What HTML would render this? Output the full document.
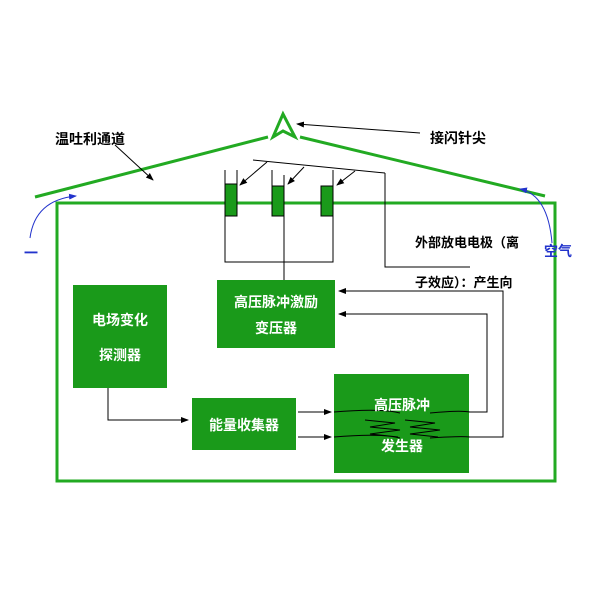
<!DOCTYPE html>
<html><head><meta charset="utf-8"><style>
body{margin:0;background:#fff}
svg text{font-family:"Liberation Sans","Noto Sans CJK SC",sans-serif;font-weight:bold}
</style></head><body>
<svg width="600" height="600" viewBox="0 0 600 600" xmlns="http://www.w3.org/2000/svg">
<defs><marker id="a" markerWidth="8" markerHeight="8" refX="7" refY="4" orient="auto"><path d="M0,1 L8,4 L0,7z" fill="#000"/></marker>
<marker id="b" markerWidth="8" markerHeight="8" refX="7" refY="4" orient="auto"><path d="M0,1 L8,4 L0,7z" fill="#2233cc"/></marker></defs>
<rect x="57" y="203" width="498" height="278" fill="none" stroke="#22aa22" stroke-width="3"/>
<line x1="35" y1="197" x2="268" y2="137" stroke="#22aa22" stroke-width="3"/>
<line x1="300" y1="137" x2="545" y2="196" stroke="#22aa22" stroke-width="3"/>
<path d="M283,114 L273,137 L283,131 L295,137 Z" fill="#fff" stroke="#22aa22" stroke-width="3"/>
<text x="55" y="144" font-size="14">温吐利通道</text>
<line x1="115" y1="145" x2="153" y2="180" stroke="#000" marker-end="url(#a)"/>
<text x="430" y="143" font-size="14">接闪针尖</text>
<line x1="420" y1="133" x2="297" y2="124" stroke="#000" marker-end="url(#a)"/>
<g fill="#1a9a1a" stroke="#000" stroke-width="1">
<rect x="225" y="184" width="12" height="32"/><rect x="272" y="186" width="12" height="30"/><rect x="321" y="186" width="12" height="30"/></g>
<g stroke="#000" fill="none" stroke-width="1">
<polyline points="225,170 225,262 333,262 333,170"/>
<line x1="237" y1="170" x2="237" y2="184"/>
<line x1="272" y1="170" x2="272" y2="186"/>
<line x1="284" y1="175" x2="284" y2="280"/>
<line x1="253" y1="160" x2="385" y2="173"/>
<polyline points="385,173 385,267 470,267"/>
<line x1="267" y1="162" x2="240" y2="185" marker-end="url(#a)"/>
<line x1="304" y1="167" x2="288" y2="184" marker-end="url(#a)"/>
<line x1="355" y1="171" x2="337" y2="185" marker-end="url(#a)"/>
<polyline points="108,388 108,420 188,420" marker-end="url(#a)"/>
<line x1="298" y1="412" x2="331" y2="412" marker-end="url(#a)"/>
<line x1="298" y1="437" x2="331" y2="437" marker-end="url(#a)"/>
<polyline points="460,412 487,412 487,314 339,314" marker-end="url(#a)"/>
<polyline points="460,437 503,437 503,291 339,291" marker-end="url(#a)"/>
</g>
<text x="415" y="247" font-size="13">外部放电电极（离</text>
<text x="415" y="287" font-size="13">子效应）：产生向</text>
<rect x="217" y="280" width="118" height="68" fill="#1a9a1a"/>
<text x="276" y="307" font-size="14" fill="#fff" text-anchor="middle">高压脉冲激励</text>
<text x="276" y="333" font-size="14" fill="#fff" text-anchor="middle">变压器</text>
<rect x="73" y="285" width="94" height="103" fill="#1a9a1a"/>
<text x="120" y="325" font-size="14" fill="#fff" text-anchor="middle">电场变化</text>
<text x="120" y="360" font-size="14" fill="#fff" text-anchor="middle">探测器</text>
<rect x="192" y="398" width="104" height="52" fill="#1a9a1a"/>
<text x="244" y="430" font-size="14" fill="#fff" text-anchor="middle">能量收集器</text>
<rect x="334" y="374" width="135" height="99" fill="#1a9a1a"/>
<path d="M334,412 Q380,408 400,413 M430,413 Q460,410 470,412 M334,437 Q380,433 400,438 M430,438 Q460,436 470,437 M365,420 l30,3 l-25,4 l30,3 l-30,4 l28,3 M405,420 l30,3 l-25,4 l30,3 l-30,4 l28,3" stroke="#000" fill="none" stroke-width="1"/>
<text x="402" y="410" font-size="14" fill="#fff" text-anchor="middle">高压脉冲</text>
<text x="402" y="451" font-size="14" fill="#fff" text-anchor="middle">发生器</text>
<path d="M30,238 Q35,200 76,196" stroke="#2233cc" fill="none" marker-end="url(#b)"/>
<path d="M552,243 Q548,195 520,189" stroke="#2233cc" fill="none" marker-end="url(#b)"/>
<text x="544" y="256" font-size="14" fill="#2233cc">空气</text>
<text x="24" y="258" font-size="14" fill="#2233cc">一</text>
</svg>
</body></html>
